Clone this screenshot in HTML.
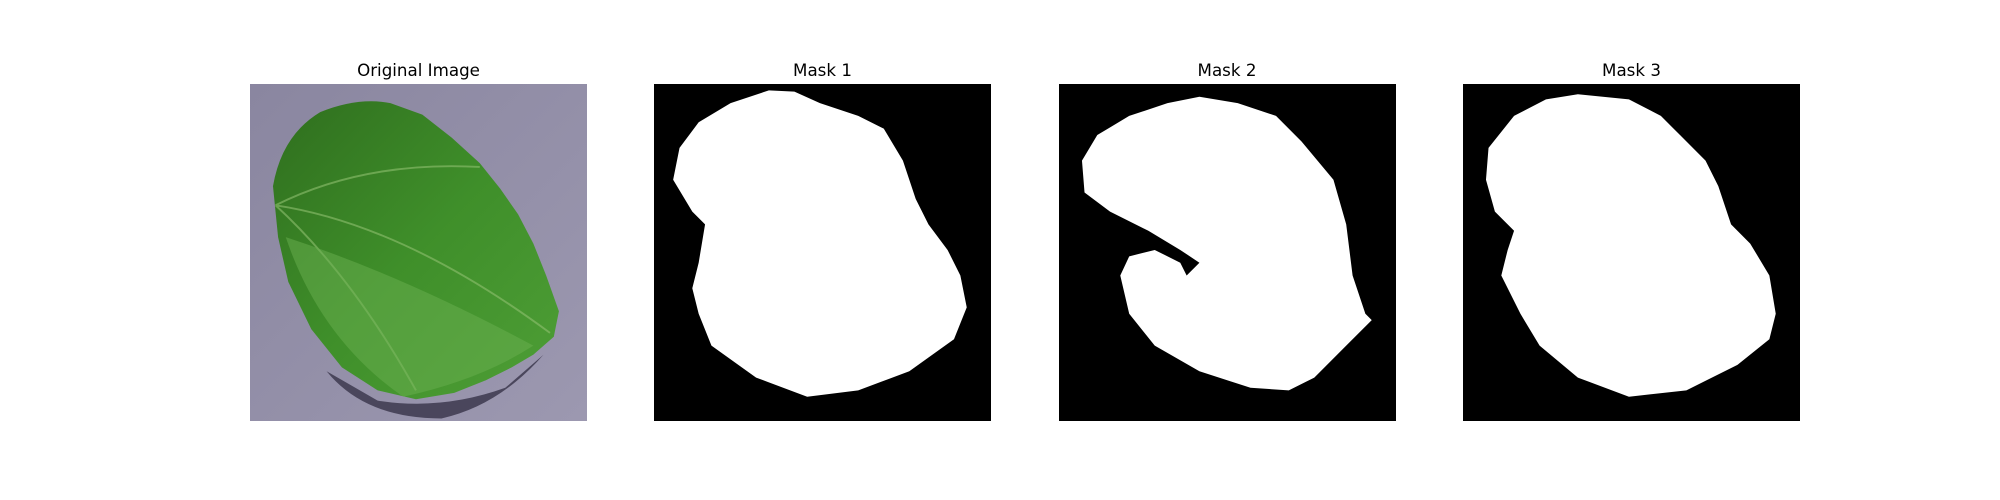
<!DOCTYPE html>
<html><head><meta charset="utf-8"><style>
html,body{margin:0;padding:0;background:#fff;width:2000px;height:500px;overflow:hidden}
svg{display:block}
text{font-family:"DejaVu Sans","Liberation Sans",sans-serif;font-size:16.7px;fill:#000}
</style></head><body>
<svg width="2000" height="500" viewBox="0 0 2000 500">
<defs>
<linearGradient id="lg" x1="0" y1="0" x2="1" y2="1">
<stop offset="0" stop-color="#2f6e1e"/><stop offset="0.5" stop-color="#3f8f2a"/><stop offset="1" stop-color="#4e9e36"/>
</linearGradient>
<linearGradient id="bg" x1="0" y1="0" x2="1" y2="1">
<stop offset="0" stop-color="#8a86a0"/><stop offset="1" stop-color="#9c98b0"/>
</linearGradient>
</defs>
<g>
<text x="418.5" y="76" text-anchor="middle">Original Image</text>
<g transform="translate(250,84) scale(1.2765)">
<rect width="264" height="264" fill="url(#bg)"/>
<path d="M60,225 Q90,262 150,262 Q195,252 230,212 L200,238 Q150,256 100,248 Z" fill="#4a465c"/>
<path d="M18,80 Q25,40 55,22 Q85,10 110,15 L135,24 L158,42 L180,62 L196,82 L210,102 L222,125 L232,150 L242,178 L238,198 L222,212 L205,222 L185,232 L160,242 L130,247 L100,240 L72,222 L48,192 L30,155 L22,120 Z" fill="url(#lg)"/>
<path d="M20,95 Q120,110 235,195 M20,95 Q80,150 130,240 M20,95 Q90,60 180,65" stroke="#8fc070" stroke-width="1.5" fill="none" opacity="0.6"/>
<path d="M28,120 Q55,200 120,245 Q180,232 222,205 Q120,150 28,120Z" fill="#6ab050" opacity="0.5"/>
</g>
</g>
<g>
<text x="822.5" y="76" text-anchor="middle">Mask 1</text>
<g transform="translate(654,84) scale(1.2765)">
<rect width="264" height="264" fill="#000"/>
<path d="M90,5 L110,6 L130,15 L160,25 L180,35 L195,60 L205,90 L215,110 L230,130 L240,150 L245,175 L235,200 L200,225 L160,240 L120,245 L80,230 L45,205 L35,180 L30,160 L35,140 L40,110 L30,100 L15,75 L20,50 L35,30 L60,15 Z" fill="#fff"/>
</g>
</g>
<g>
<text x="1227" y="76" text-anchor="middle">Mask 2</text>
<g transform="translate(1059,84) scale(1.2765)">
<rect width="264" height="264" fill="#000"/>
<path d="M85,15 L110,10 L140,15 L170,25 L190,45 L215,75 L225,110 L230,150 L240,180 L245,185 L225,205 L200,230 L180,240 L150,238 L110,225 L75,205 L55,180 L48,150 L55,135 L75,130 L95,140 L100,150 L110,140 L95,130 L70,115 L40,100 L20,85 L18,60 L30,40 L55,25 Z" fill="#fff"/>
</g>
</g>
<g>
<text x="1631.5" y="76" text-anchor="middle">Mask 3</text>
<g transform="translate(1463,84) scale(1.2765)">
<rect width="264" height="264" fill="#000"/>
<path d="M90,8 L130,12 L155,25 L170,40 L190,60 L200,80 L210,110 L225,125 L240,150 L245,180 L240,200 L215,220 L175,240 L130,245 L90,230 L60,205 L45,180 L30,150 L35,130 L40,115 L25,100 L18,75 L20,50 L40,25 L65,12 Z" fill="#fff"/>
</g>
</g>
</svg>
</body></html>
